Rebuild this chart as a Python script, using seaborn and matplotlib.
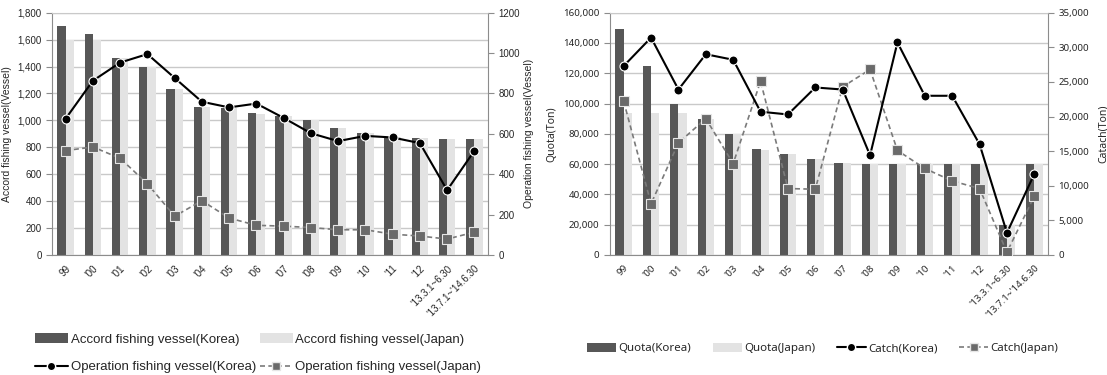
import numpy as np
import pandas as pd
import matplotlib
matplotlib.use("Agg")
import matplotlib.pyplot as plt
import seaborn as sns
from matplotlib.patches import Patch
from matplotlib.lines import Line2D
from matplotlib.ticker import FuncFormatter, MultipleLocator, FixedLocator

# ---- data -------------------------------------------------------------
periods = ["99", "'00", "'01", "'02", "'03", "'04", "'05", "'06", "'07", "'08",
           "'09", "'10", "'11", "'12", "'13.3.1~6.30", "'13.7.1~'14.6.30"]

accord_korea = [1700, 1640, 1465, 1400, 1235, 1100, 1090, 1055, 1030, 1000,
                945, 905, 880, 870, 860, 860]
accord_japan = [1600, 1600, 1460, 1400, 1235, 1100, 1090, 1050, 1030, 1000,
                945, 905, 880, 870, 860, 860]
operation_korea = [675, 863, 953, 995, 877, 759, 731, 750, 679, 603,
                   564, 590, 582, 554, 321, 516]
operation_japan = [517, 535, 479, 353, 192, 269, 183, 147, 143, 136,
                   125, 125, 103, 94, 79, 113]

quota_korea = [149000, 125000, 100000, 90000, 80000, 70000, 67000, 63500, 60500, 60000,
               60000, 60000, 60000, 60000, 20000, 60000]
quota_japan = [94000, 94000, 94000, 90000, 80000, 69500, 67000, 63500, 60500, 60000,
               60000, 60000, 60000, 60000, 20000, 60000]
catch_korea = [27300, 31400, 23900, 29000, 28200, 20700, 20300, 24200, 23900, 14400,
               30700, 23000, 23000, 16000, 3200, 11700]
catch_japan = [22200, 7400, 16200, 19700, 13200, 25100, 9600, 9500, 24300, 26800,
               15100, 12500, 10700, 9600, 400, 8500]

DARK = "#575757"
LIGHT = "#e3e3e3"
GRID = "#c9c9c9"
AXIS = "#8c8c8c"
JP_LINE = "#7a7a7a"
JP_MARK = "#6a6a6a"

ARIAL = ["Liberation Sans", "DejaVu Sans"]
GOTHIC = ["Noto Sans", "DejaVu Sans"]

sns.set_style("white")
plt.rcParams["font.family"] = ARIAL

W, H = 1107, 375
fig = plt.figure(figsize=(W / 100, H / 100), dpi=100)
ax_l = fig.add_axes([52 / W, 1 - 255 / H, 436 / W, 242.3 / H])
ax_r = fig.add_axes([610 / W, 1 - 255 / H, 438 / W, 242.3 / H])


def comma(v, _):
    return f"{int(v):,}"


def draw_panel(ax, kor_bar, jap_bar, kor_line, jap_line, ymax_l, step_l,
               ymax_r, step_r, fmt_l, fmt_r, lab_l, lab_r, family, rpad):
    n = len(periods)
    df = pd.DataFrame({
        "period": periods * 2,
        "value": list(kor_bar) + list(jap_bar),
        "country": ["Korea"] * n + ["Japan"] * n,
    })
    sns.barplot(data=df, x="period", y="value", hue="country",
                palette=[DARK, LIGHT], width=0.6, saturation=1,
                legend=False, ax=ax, linewidth=0)
    ax.set_xlim(-0.5, n - 0.5)
    ax.set_ylim(0, ymax_l)
    ax.yaxis.set_major_locator(MultipleLocator(step_l))
    ax.yaxis.set_major_formatter(FuncFormatter(fmt_l))
    ax.yaxis.grid(True, color=GRID, lw=1)
    ax.set_axisbelow(True)
    ax.set_xlabel("")
    ax.set_ylabel(lab_l, fontsize=7.5, family=family, labelpad=4)

    # category labels at centres, tick marks at category boundaries
    ax.set_xticks(np.arange(n))
    ax.set_xticklabels(periods, rotation=45, ha="right",
                       rotation_mode="anchor", fontsize=7, family=family)
    ax.xaxis.set_minor_locator(FixedLocator(np.arange(-0.5, n, 1)))
    ax.tick_params(axis="x", which="major", length=0, pad=6)
    ax.tick_params(axis="x", which="minor", length=4, color=AXIS, width=0.8)
    ax.tick_params(axis="y", length=4, color=AXIS, width=0.8,
                   labelsize=7, direction="out", left=True)
    for lbl in ax.get_yticklabels():
        lbl.set_family(family)

    for side in ["left", "bottom", "right", "top"]:
        ax.spines[side].set_visible(True)
        ax.spines[side].set_color(AXIS)
        ax.spines[side].set_linewidth(0.8)
    ax.spines["top"].set_color(GRID)

    ax2 = ax.twinx()
    x = np.arange(n)
    ax2.plot(x, jap_line, color=JP_LINE, ls=(0, (3, 2)), lw=1.2,
             marker="s", ms=6.5, mfc=JP_MARK, mec="#e6e6e6", mew=0.8, zorder=3)
    ax2.plot(x, kor_line, color="black", lw=1.5,
             marker="o", ms=6.5, mfc="black", mec="white", mew=0.8, zorder=4)
    ax2.set_ylim(0, ymax_r)
    ax2.yaxis.set_major_locator(MultipleLocator(step_r))
    ax2.yaxis.set_major_formatter(FuncFormatter(fmt_r))
    ax2.tick_params(axis="y", length=4, color=AXIS, width=0.8,
                    labelsize=7, direction="out", right=True)
    for lbl in ax2.get_yticklabels():
        lbl.set_family(family)
    for side in ["left", "bottom", "right", "top"]:
        ax2.spines[side].set_visible(False)
    ax2.set_ylabel(lab_r, fontsize=7.5, family=family, labelpad=rpad)
    return ax2


draw_panel(ax_l, accord_korea, accord_japan, operation_korea, operation_japan,
           1800, 200, 1200, 200, comma, lambda v, _: f"{int(v)}",
           "Accord fishing vessel(Vessel)", "Operation fishing vessel(Vessel)",
           ARIAL, 3)
draw_panel(ax_r, quota_korea, quota_japan, catch_korea, catch_japan,
           160000, 20000, 35000, 5000, comma, comma,
           "Quota(Ton)", "Catach(Ton)", GOTHIC, 6)


def legend_handles(names):
    return [
        Patch(facecolor=DARK, edgecolor="none", label=names[0]),
        Patch(facecolor=LIGHT, edgecolor="none", label=names[1]),
        Line2D([], [], color="black", lw=1.5, marker="o", ms=6,
               mfc="black", mec="white", label=names[2]),
        Line2D([], [], color=JP_LINE, lw=1.2, ls=(0, (3, 2)), marker="s", ms=6,
               mfc=JP_MARK, mec="#e6e6e6", label=names[3]),
    ]


hl = legend_handles(["Accord fishing vessel(Korea)", "Accord fishing vessel(Japan)",
                     "Operation fishing vessel(Korea)", "Operation fishing vessel(Japan)"])
# row-major order for a two-column legend
order = [hl[0], hl[2], hl[1], hl[3]]
fig.legend(handles=order, loc="upper left", bbox_to_anchor=(35 / W, 1 - 333 / H),
           ncol=2, frameon=False, borderpad=0, borderaxespad=0,
           handlelength=2.5, handleheight=0.8, handletextpad=0.2,
           columnspacing=0.3, labelspacing=1.15,
           prop={"family": ARIAL, "size": 9.5})

hr = legend_handles(["Quota(Korea)", "Quota(Japan)", "Catch(Korea)", "Catch(Japan)"])
fig.legend(handles=hr, loc="upper left", bbox_to_anchor=(587 / W, 1 - 343 / H),
           ncol=4, frameon=False, borderpad=0, borderaxespad=0,
           handlelength=2.5, handleheight=0.8, handletextpad=0.2,
           columnspacing=1.9,
           prop={"family": GOTHIC, "size": 8.3})

fig.savefig("out.png", dpi=100, facecolor="white")
